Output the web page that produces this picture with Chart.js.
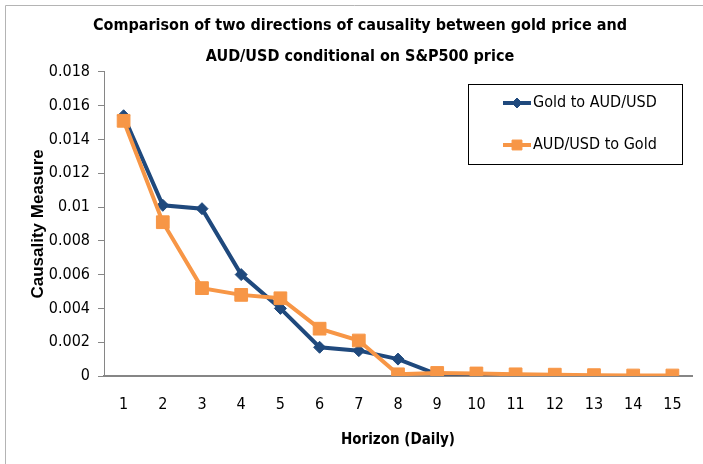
<!DOCTYPE html>
<html>
<head>
<meta charset="utf-8">
<script src="https://cdn.jsdelivr.net/npm/chart.js@4.4.1/dist/chart.umd.min.js"></script>
<style>
  html, body { margin: 0; padding: 0; background: #fff; }
  #wrap { width: 703px; height: 464px; }
</style>
</head>
<body>
<div id="wrap"><canvas id="chart" width="703" height="464"></canvas></div>
<script>
// horizons (days)
var horizons = ['1', '2', '3', '4', '5', '6', '7', '8', '9', '10', '11', '12', '13', '14', '15'];
// causality measures
var goldToAud = [0.0154, 0.0101, 0.0099, 0.0060, 0.0040, 0.0017, 0.0015, 0.0010, 0.0001, 0.00005, 0.00002, 0.00001, 0, 0, 0];
var audToGold = [0.0151, 0.0091, 0.0052, 0.0048, 0.0046, 0.0028, 0.0021, 0.0001, 0.00018, 0.00015, 0.0001, 0.00008, 0.00005, 0.00003, 0.00003];
var seriesNames = ['Gold to AUD/USD', 'AUD/USD to Gold'];
var yTicks = [0, 0.002, 0.004, 0.006, 0.008, 0.01, 0.012, 0.014, 0.016, 0.018];
var titleLines = ['Comparison of two directions of causality between gold price and', 'AUD/USD conditional on S&P500 price'];

var narrow = "'DejaVu Sans', sans-serif";

// light frame round the chart, like the spreadsheet chart border
var framePlugin = {
    id: 'frame',
    beforeDraw: function(chart) {
        var ctx = chart.ctx;
        ctx.save();
        ctx.strokeStyle = '#b4b4b4';
        ctx.lineWidth = 1;
        ctx.beginPath();
        ctx.moveTo(5.5, 464);
        ctx.lineTo(5.5, 5.5);
        ctx.lineTo(703, 5.5);
        ctx.stroke();
        ctx.restore();
    }
};

// boxed legend sitting inside the plot, top right
var boxLegend = {
    id: 'boxLegend',
    afterDraw: function(chart) {
        var ctx = chart.ctx;
        ctx.save();
        ctx.strokeStyle = '#000';
        ctx.lineWidth = 1;
        ctx.strokeRect(468.5, 84.5, 214, 80);
        chart.data.datasets.forEach(function(ds, i) {
            var y = 103 + i * 42;
            ctx.strokeStyle = ds.borderColor;
            ctx.fillStyle = ds.backgroundColor;
            ctx.lineWidth = 4;
            ctx.beginPath();
            ctx.moveTo(503, y);
            ctx.lineTo(531, y);
            ctx.stroke();
            ctx.lineWidth = 1;
            Chart.helpers.drawPoint(ctx, {
                pointStyle: ds.pointStyle,
                radius: ds.pointStyle === 'rect' ? 7 : 5,
                borderWidth: 1,
                rotation: 0
            }, 517, y);
            ctx.fillStyle = '#000';
            ctx.font = 'condensed 16px ' + narrow;
            ctx.textBaseline = 'middle';
            ctx.textAlign = 'left';
            ctx.fillText(ds.label, 533, y);
        });
        ctx.restore();
    }
};

var ctx = document.getElementById('chart').getContext('2d');
var chart = new Chart(ctx, {
    type: 'line',
    data: {
        labels: horizons,
        datasets: [
            {
                label: seriesNames[0],
                data: goldToAud,
                borderColor: '#1F497D',
                backgroundColor: '#1F497D',
                borderWidth: 4,
                pointStyle: 'rectRot',
                pointRadius: 6,
                pointBorderWidth: 1,
                order: 1,
                tension: 0
            },
            {
                label: seriesNames[1],
                data: audToGold,
                borderColor: '#F79646',
                backgroundColor: '#F79646',
                borderWidth: 4,
                pointStyle: 'rect',
                pointRadius: 9,
                pointBorderWidth: 1,
                order: 0,
                tension: 0
            }
        ]
    },
    options: {
        responsive: false,
        animation: false,
        layout: { padding: { top: 11, left: 28, right: 11, bottom: 0 } },
        plugins: {
            legend: { display: false },
            tooltip: { enabled: false },
            title: {
                display: true,
                text: titleLines,
                color: '#000',
                font: { family: narrow, size: 16, weight: 'bold condensed', lineHeight: 1.9 },
                padding: { top: 0, bottom: 0 }
            }
        },
        scales: {
            x: {
                type: 'category',
                offset: true,
                grid: { display: false, drawTicks: false },
                border: { display: true, color: '#868686', width: 2 },
                ticks: { color: '#000', padding: 19, font: { family: narrow, size: 16, weight: 'condensed' }, maxRotation: 0, autoSkip: false },
                title: {
                    display: true,
                    text: 'Horizon (Daily)',
                    color: '#000',
                    font: { family: narrow, size: 15, weight: 'bold condensed', lineHeight: 1.2 },
                    padding: { top: 0, bottom: 15 }
                },
                afterFit: function(scale) { scale.height = 88; }
            },
            y: {
                min: 0,
                max: 0.018,
                afterBuildTicks: function(scale) {
                    scale.ticks = yTicks.map(function(v) { return { value: v }; });
                },
                grid: { display: true, drawOnChartArea: false, drawTicks: true, tickLength: 6, color: '#868686' },
                border: { display: true, color: '#868686', width: 1 },
                ticks: {
                    color: '#000',
                    padding: 8,
                    font: { family: narrow, size: 16, weight: 'condensed' },
                    callback: function(v) { return String(Number(v.toFixed(3))); }
                },
                title: {
                    display: true,
                    text: 'Causality Measure',
                    color: '#000',
                    font: { family: "'Liberation Sans', Arial, sans-serif", size: 17, weight: 'bold', lineHeight: 1.2 },
                    padding: { top: 0, bottom: 0 }
                },
                afterFit: function(scale) { scale.width = 76; }
            }
        }
    },
    plugins: [framePlugin, boxLegend]
});
</script>
</body>
</html>
